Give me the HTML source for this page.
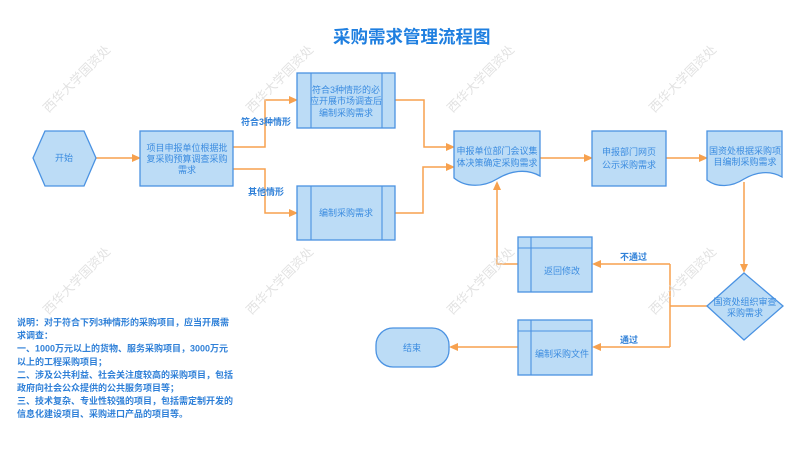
<!DOCTYPE html>
<html><head><meta charset="utf-8"><style>
html,body{margin:0;padding:0;background:#fff;width:799px;height:450px;overflow:hidden}
svg{display:block}
text{font-family:"Liberation Sans","Noto Sans CJK SC",sans-serif}
.bx{fill:#bcdcf6;stroke:#4a92e2;stroke-width:1.3}
.ln{fill:none;stroke:#4a92e2;stroke-width:1.1}
.t{font-size:9px;fill:#3b8ce0;text-anchor:middle;dominant-baseline:central}
.c{fill:none;stroke:#f7a14e;stroke-width:1.5}
.ah{fill:#f7a14e}
.lb{font-size:9px;font-weight:bold;fill:#2f80d8;dominant-baseline:central}
.nt{font-size:9px;font-weight:bold;fill:#2f80d8;dominant-baseline:central}
.wm{font-size:12.7px;fill:#d9d9d9;opacity:0.75;text-anchor:middle;dominant-baseline:central}
</style></head><body>
<svg width="799" height="450" viewBox="0 0 799 450" xmlns="http://www.w3.org/2000/svg">
<!-- title -->
<text x="333" y="37" style="font-size:17.5px;font-weight:bold;fill:#1f7fe0;dominant-baseline:central">采购需求管理流程图</text>

<!-- connectors -->
<line class="c" x1="96" y1="158" x2="134" y2="158"/>
<polygon class="ah" points="141,158 132,154 132,162"/>

<polyline class="c" points="233,147 265,147 265,100 291,100"/>
<polygon class="ah" points="298,100 289,96 289,104"/>
<polyline class="c" points="233,169 265,169 265,213 291,213"/>
<polygon class="ah" points="298,213 289,209 289,217"/>

<polyline class="c" points="395,100 424,100 424,147 448,147"/>
<polygon class="ah" points="455,147 446,143 446,151"/>
<polyline class="c" points="395,213 423,213 423,167 448,167"/>
<polygon class="ah" points="455,167 446,163 446,171"/>

<line class="c" x1="540" y1="158" x2="586" y2="158"/>
<polygon class="ah" points="593,158 584,154 584,162"/>
<line class="c" x1="666" y1="158" x2="701" y2="158"/>
<polygon class="ah" points="708,158 699,154 699,162"/>

<line class="c" x1="744" y1="182" x2="744" y2="266"/>
<polygon class="ah" points="744,273 740,264 748,264"/>

<line class="c" x1="707" y1="306" x2="670" y2="306"/>
<line class="c" x1="670" y1="264" x2="670" y2="347"/>
<line class="c" x1="670" y1="264" x2="598" y2="264"/>
<polygon class="ah" points="592,264 601,260 601,268"/>
<line class="c" x1="670" y1="347" x2="598" y2="347"/>
<polygon class="ah" points="592,347 601,343 601,351"/>

<polyline class="c" points="518,264 497,264 497,188"/>
<polygon class="ah" points="497,181 493,190 501,190"/>

<line class="c" x1="518" y1="347" x2="455" y2="347"/>
<polygon class="ah" points="449,347 458,343 458,351"/>

<!-- labels -->
<text class="lb" x="241" y="122">符合3种情形</text>
<text class="lb" x="248" y="192">其他情形</text>
<text class="lb" x="620" y="257">不通过</text>
<text class="lb" x="620" y="340">通过</text>

<!-- start hexagon -->
<polygon class="bx" points="33,158 45,131 84,131 96,158 84,186 45,186"/>
<text class="t" x="64" y="158">开始</text>

<!-- box1 -->
<rect class="bx" x="140" y="131" width="93" height="55"/>
<text class="t" x="187" y="148">项目申报单位根据批</text>
<text class="t" x="187" y="159">复采购预算调查采购</text>
<text class="t" x="187" y="170">需求</text>

<!-- box2 predefined -->
<rect class="bx" x="297" y="73" width="98" height="55"/>
<line class="ln" x1="311" y1="73" x2="311" y2="128"/>
<line class="ln" x1="382" y1="73" x2="382" y2="128"/>
<text class="t" x="346" y="90">符合3种情形的必</text>
<text class="t" x="346" y="101">应开展市场调查后</text>
<text class="t" x="346" y="113">编制采购需求</text>

<!-- box3 predefined -->
<rect class="bx" x="297" y="186" width="98" height="54"/>
<line class="ln" x1="311" y1="186" x2="311" y2="240"/>
<line class="ln" x1="382" y1="186" x2="382" y2="240"/>
<text class="t" x="346" y="213">编制采购需求</text>

<!-- box4 document -->
<path class="bx" d="M454,131 H540 V176 C526,168 510,171 497,179 C484,187 466,188 454,178 Z"/>
<text class="t" x="497" y="151">申报单位部门会议集</text>
<text class="t" x="497" y="163">体决策确定采购需求</text>

<!-- box5 -->
<rect class="bx" x="592" y="131" width="74" height="55"/>
<text class="t" x="629" y="152">申报部门网页</text>
<text class="t" x="629" y="165">公示采购需求</text>

<!-- box6 document -->
<path class="bx" d="M707,131 H782 V177 C770,170 756,172 744,179 C732,187 717,188 707,180 Z"/>
<text class="t" x="745" y="151">国资处根据采购项</text>
<text class="t" x="745" y="162">目编制采购需求</text>

<!-- diamond -->
<polygon class="bx" points="744,273 783,306 744,340 707,306"/>
<text class="t" x="745" y="302">国资处组织审查</text>
<text class="t" x="745" y="313">采购需求</text>

<!-- return box -->
<rect class="bx" x="518" y="237" width="74" height="55"/>
<line class="ln" x1="531" y1="237" x2="531" y2="292"/>
<line class="ln" x1="518" y1="248" x2="592" y2="248"/>
<text class="t" x="562" y="271">返回修改</text>

<!-- procurement file box -->
<rect class="bx" x="518" y="320" width="74" height="55"/>
<line class="ln" x1="531" y1="320" x2="531" y2="375"/>
<line class="ln" x1="518" y1="331" x2="592" y2="331"/>
<text class="t" x="562" y="354">编制采购文件</text>

<!-- end terminator -->
<rect class="bx" x="376" y="328" width="73" height="39" rx="17" ry="17"/>
<text class="t" x="412" y="348">结束</text>

<!-- notes -->
<text class="nt" x="17" y="322.5">说明：对于符合下列3种情形的采购项目，应当开展需</text>
<text class="nt" x="17" y="335.6">求调查：</text>
<text class="nt" x="17" y="348.7">一、1000万元以上的货物、服务采购项目，3000万元</text>
<text class="nt" x="17" y="361.8">以上的工程采购项目；</text>
<text class="nt" x="17" y="374.9">二、涉及公共利益、社会关注度较高的采购项目，包括</text>
<text class="nt" x="17" y="388">政府向社会公众提供的公共服务项目等；</text>
<text class="nt" x="17" y="401.1">三、技术复杂、专业性较强的项目，包括需定制开发的</text>
<text class="nt" x="17" y="414.2">信息化建设项目、采购进口产品的项目等。</text>

<!-- watermarks -->
<g class="wmg">
<text class="wm" transform="translate(77,79) rotate(-45)">西华大学国资处</text>
<text class="wm" transform="translate(280,79) rotate(-45)">西华大学国资处</text>
<text class="wm" transform="translate(481,79) rotate(-45)">西华大学国资处</text>
<text class="wm" transform="translate(683,79) rotate(-45)">西华大学国资处</text>
<text class="wm" transform="translate(77,281) rotate(-45)">西华大学国资处</text>
<text class="wm" transform="translate(280,281) rotate(-45)">西华大学国资处</text>
<text class="wm" transform="translate(481,281) rotate(-45)">西华大学国资处</text>
<text class="wm" transform="translate(683,281) rotate(-45)">西华大学国资处</text>
</g>
</svg>
</body></html>
